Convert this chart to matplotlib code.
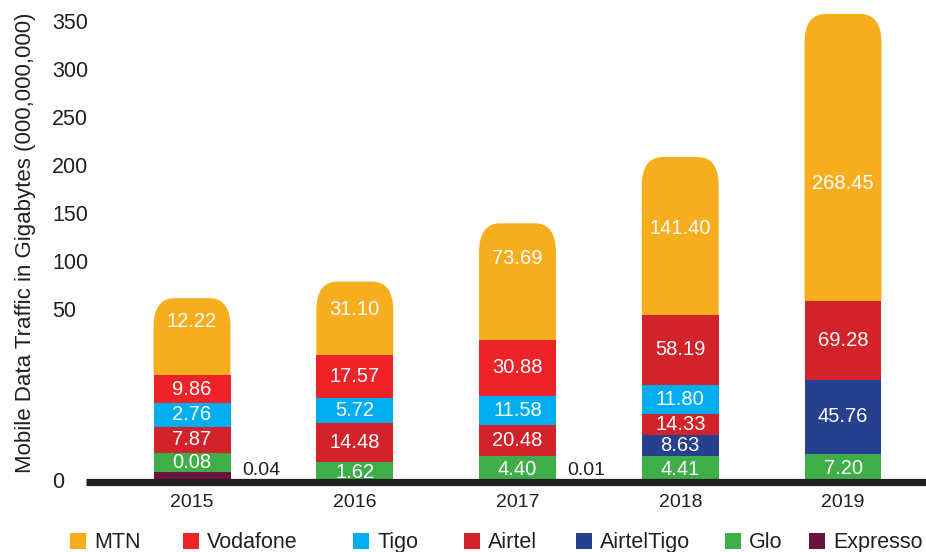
import numpy as np
import matplotlib.pyplot as plt
from matplotlib.patches import FancyBboxPatch, Rectangle

plt.rcParams['font.family'] = ['Liberation Sans', 'DejaVu Sans']

# Data
years = ["2015", "2016", "2017", "2018", "2019"]
series = ["Expresso", "Glo", "AirtelTigo", "Airtel", "Tigo", "Vodafone", "MTN"]

# printed values (nan = no entry)
expresso = [0.04, np.nan, 0.01, np.nan, np.nan]
glo = [0.08, 1.62, 4.40, 4.41, 7.20]
airteltigo = [np.nan, np.nan, np.nan, 8.63, 45.76]
airtel = [7.87, 14.48, 20.48, 14.33, np.nan]
tigo = [2.76, 5.72, 11.58, 11.80, np.nan]
vodafone = [9.86, 17.57, 30.88, 58.19, 69.28]
mtn = [12.22, 31.10, 73.69, 141.40, 268.45]

# drawn segment heights as they appear on the (non-proportional) axis
h_expresso = [11.3, 0, 0, 0, 0]
h_glo = [19.8, 21.7, 27.6, 27.6, 29.7]
h_airteltigo = [0, 0, 0, 21.9, 77.1]
h_airtel = [27.1, 40.0, 32.3, 21.9, 0]
h_tigo = [24.4, 26.4, 30.5, 30.2, 0]
h_vodafone = [29.5, 44.8, 58.0, 72.9, 82.3]
h_mtn = [79.9, 76.4, 121.6, 164.6, 299.0]

ytick_values = [0, 50, 100, 150, 200, 250, 300, 350]
ytick_offset = 128.6  # axis jumps between 0 and 50

colors = {
    "MTN": "#F6AE1F",
    "Vodafone": "#EE2229",
    "Tigo": "#00AEEF",
    "Airtel": "#D2232A",
    "AirtelTigo": "#263F8F",
    "Glo": "#3FAE49",
    "Expresso": "#6B123F",
}
vodafone_colors = ["#EE2229", "#EE2229", "#EE2229", "#D2232A", "#D2232A"]
mtn_label_pos = [0.31, 0.38, 0.30, 0.45, 0.59]  # fraction from top

values = [expresso, glo, airteltigo, airtel, tigo, vodafone]
heights = [h_expresso, h_glo, h_airteltigo, h_airtel, h_tigo, h_vodafone]

fig = plt.figure(figsize=(9.26, 5.52), dpi=100)
ax = fig.add_axes([0, 0, 1, 1])
ax.set_xlim(-1.18, 4.51)
ax.set_ylim(-72.4, 502.6)
ax.axis('off')

x = np.arange(len(years))
width = 0.473
dark = "#231F20"
bottom = np.zeros(len(years))

for name, vals, hs in zip(series[:-1], values, heights):
    hs = np.array(hs)
    col = vodafone_colors if name == "Vodafone" else colors[name]
    ax.bar(x, hs, width, bottom=bottom, color=col, linewidth=0, zorder=3)
    for i in range(len(years)):
        if np.isnan(vals[i]):
            continue
        if name == "Expresso":
            # tiny values printed beside the bar
            ax.text(x[i] + width / 2 + 0.07, 12, f"{vals[i]:.2f}", color=dark,
                    fontsize=14, ha='left', va='center', zorder=5)
        else:
            ax.text(x[i], bottom[i] + hs[i] / 2, f"{vals[i]:.2f}", color='white',
                    fontsize=14.5, ha='center', va='center', zorder=5)
    bottom = bottom + hs

# MTN on top with rounded upper corners
overlap = 25
for i in range(len(years)):
    patch = FancyBboxPatch((x[i] - width / 2, bottom[i] - overlap), width,
                           h_mtn[i] + overlap,
                           boxstyle="round,pad=0,rounding_size=0.13",
                           mutation_aspect=235, facecolor=colors["MTN"],
                           linewidth=0, zorder=2)
    ax.add_patch(patch)
    top = bottom[i] + h_mtn[i]
    ax.text(x[i], top - h_mtn[i] * mtn_label_pos[i], f"{mtn[i]:.2f}", color='white',
            fontsize=14.5, ha='center', va='center', zorder=5)

# baseline
ax.plot([-0.651, 4.6], [0, 0], color=dark, linewidth=5.2, solid_capstyle='butt', zorder=4)

# y ticks (left aligned, as in the original)
for v in ytick_values:
    pos = v if v == 0 else v + ytick_offset
    ax.text(-0.86, pos, str(v), ha='left', va='center', fontsize=15.5, color=dark)
ax.text(-1.026, 250, "Mobile Data Traffic in Gigabytes (000,000,000)", rotation=90,
        ha='center', va='center', fontsize=16, color=dark)

# x labels
for xi, yr in zip(x, years):
    ax.text(xi, -20.5, yr, ha='center', va='center', fontsize=14, color=dark)

# legend
legend_names = ["MTN", "Vodafone", "Tigo", "Airtel", "AirtelTigo", "Glo", "Expresso"]
legend_x = [70, 183, 353, 464, 576, 725, 809]
for name, lx in zip(legend_names, legend_x):
    fig.patches.append(Rectangle((lx / 926, 1 - 549 / 552), 16 / 926, 16 / 552,
                                 transform=fig.transFigure, facecolor=colors[name],
                                 linewidth=0))
    fig.text((lx + 24) / 926, 1 - 548 / 552, name, ha='left', va='baseline',
             fontsize=15.5, color=dark)

fig.savefig("out.png", dpi=100)
